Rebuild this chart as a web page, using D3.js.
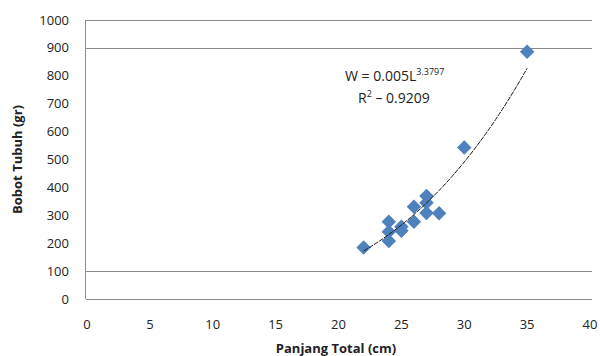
<!DOCTYPE html>
<meta charset="utf-8">
<style>
  body { margin: 0; background: #fff; }
  text { font-family: "Open Sans", "Noto Sans", sans-serif; fill: #222; }
  .title { font-weight: 700; }
</style>
<body>
<script src="https://d3js.org/d3.v7.min.js"></script>
<script>
// measured values (Panjang Total cm, Bobot Tubuh gr)
var panjang = [22, 24, 24, 24, 25, 25, 26, 26, 27, 27, 27, 28, 30, 35];
var bobot   = [185, 277, 241, 208, 259, 245, 331, 277, 369, 345, 308, 307, 543, 886];
var xTicks = [0, 5, 10, 15, 20, 25, 30, 35, 40];
var yTicks = [0, 100, 200, 300, 400, 500, 600, 700, 800, 900, 1000];
var gridVals = [100, 900, 1000];   // only these lines show in the picture
// power trend line W = a L^b
var coefA = 0.005, coefB = 3.3797, fitFrom = 22, fitTo = 35;

width = 600;
height = 356;
var margin = {left: 86, right: 8, top: 20, bottom: 57};

var svg = d3.select("body")
          .append("svg")
          .attr("width", width)
          .attr("height", height);

var x = d3.scaleLinear().domain([0, 40]).range([margin.left + 1, 590]);
var y = d3.scaleLinear().domain([0, 1000]).range([height - margin.bottom, margin.top]);

// gridlines
svg.append("g")
  .selectAll("line")
  .data(gridVals)
  .enter().append("line")
    .attr("x1", margin.left)
    .attr("x2", 592)
    .attr("y1", d => Math.round(y(d)) + 0.5)
    .attr("y2", d => Math.round(y(d)) + 0.5)
    .attr("stroke", "#8c8c8c");

// axes lines
svg.append("line")
  .attr("x1", margin.left).attr("x2", 592)
  .attr("y1", Math.round(y(0)) + 0.5).attr("y2", Math.round(y(0)) + 0.5)
  .attr("stroke", "#8c8c8c");
svg.append("line")
  .attr("x1", margin.left - 0.5).attr("x2", margin.left - 0.5)
  .attr("y1", y(1000)).attr("y2", y(0))
  .attr("stroke", "#8c8c8c");

// tick labels
svg.append("g")
  .attr("text-anchor", "end")
  .style("font-size", "13px")
.selectAll("text")
  .data(yTicks)
  .enter().append("text")
    .attr("x", 69)
    .attr("y", d => y(d))
    .attr("dy", "0.35em")
    .text(d => d);

svg.append("g")
  .attr("text-anchor", "middle")
  .style("font-size", "13px")
.selectAll("text")
  .data(xTicks)
  .enter().append("text")
    .attr("x", d => x(d))
    .attr("y", 329)
    .text(d => d);

// axis titles
svg.append("text")
  .attr("class", "title")
  .attr("text-anchor", "middle")
  .style("font-size", "13px")
  .attr("x", 336)
  .attr("y", 353)
  .text("Panjang Total (cm)");

svg.append("text")
  .attr("class", "title")
  .attr("text-anchor", "middle")
  .style("font-size", "13px")
  .attr("transform", "translate(22," + y(500) + ") rotate(-90)")
  .text("Bobot Tubuh (gr)");

// points
var sym = d3.symbol().type(d3.symbolSquare).size(105);
svg.append("g")
  .attr("fill", "#4f81bd")
.selectAll("path")
  .data(panjang.map((p, i) => [p, bobot[i]]))
  .enter().append("path")
    .attr("d", sym)
    .attr("transform", d => `translate(${x(d[0])},${y(d[1])}) rotate(45)`);

// trend line
var fit = d3.range(fitFrom, fitTo + 0.001, 0.25).map(L => [L, coefA * Math.pow(L, coefB)]);
svg.append("path")
  .datum(fit)
  .attr("fill", "none")
  .attr("stroke", "#1a1a1a")
  .attr("stroke-width", 1)
  .attr("stroke-dasharray", "5,1")
  .attr("d", d3.line().x(d => x(d[0])).y(d => y(d[1])));

// equation
var eq = svg.append("text")
  .style("font-size", "14px")
  .attr("x", 345)
  .attr("y", 81);
eq.append("tspan").text("W = 0.005L");
eq.append("tspan").attr("dy", -6).style("font-size", "9px").text("3.3797");

var r2 = svg.append("text")
  .style("font-size", "14px")
  .attr("x", 358)
  .attr("y", 103);
r2.append("tspan").text("R");
r2.append("tspan").attr("dy", -6).style("font-size", "9px").text("2");
r2.append("tspan").attr("dy", 6).text(" – 0.9209");
</script>
</body>
